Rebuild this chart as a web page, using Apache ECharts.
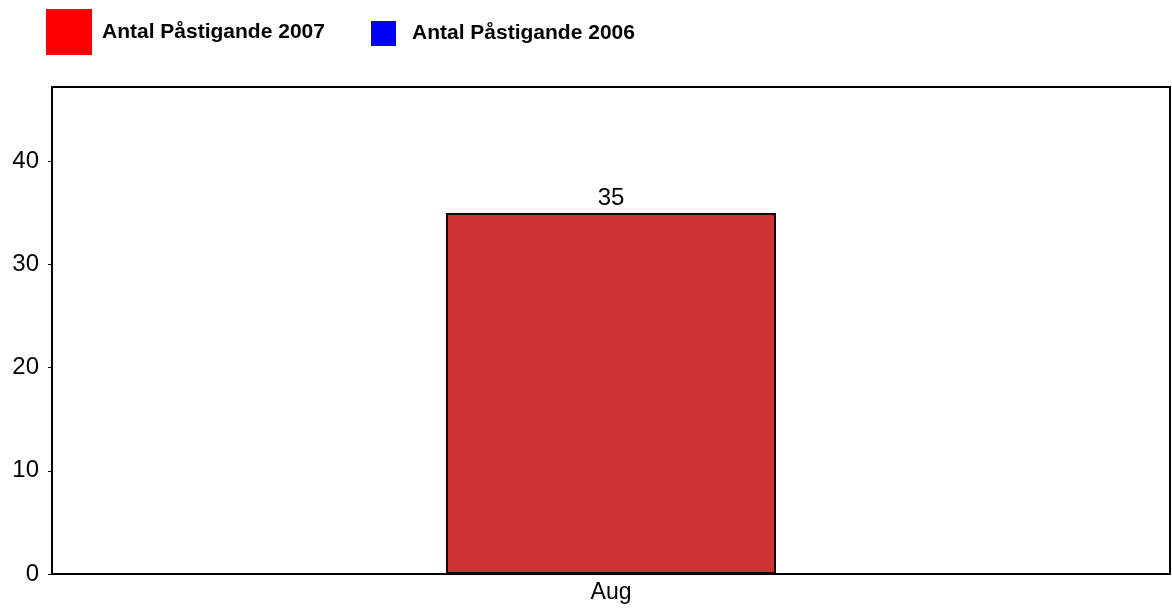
<!DOCTYPE html>
<html>
<head>
<meta charset="utf-8">
<script src="https://cdn.jsdelivr.net/npm/echarts@6/dist/echarts.min.js"></script>
<style>html,body{margin:0;padding:0;background:#fff;}#c{width:1172px;height:611px;}</style>
</head>
<body>
<div id="c"></div>
<script>
const categories = ['Aug'];
const seriesNames = ['Antal Påstigande 2007', 'Antal Påstigande 2006'];
const values2007 = [35];
const values2006 = ['-'];
const yTicks = [0, 10, 20, 30, 40];

const chart = echarts.init(document.getElementById('c'), null, {renderer: 'canvas'});
const font = 'Liberation Sans, Arial, sans-serif';
chart.setOption({
  animation: false,
  backgroundColor: '#ffffff',
  legend: [
    {
      data: [{name: seriesNames[0], itemStyle: {color: '#FF0000', borderWidth: 0}}],
      left: 46, top: 9, padding: 0,
      itemWidth: 46, itemHeight: 46, icon: 'rect',
      textStyle: {fontFamily: font, fontWeight: 'bold', fontSize: 21, color: '#000', padding: [0, 0, 0, 5]}
    },
    {
      data: [{name: seriesNames[1], itemStyle: {color: '#0000FF', borderWidth: 0}}],
      left: 371, top: 21, padding: 0,
      itemWidth: 25, itemHeight: 25, icon: 'rect',
      textStyle: {fontFamily: font, fontWeight: 'bold', fontSize: 21, color: '#000', padding: [0, 0, 0, 11]}
    }
  ],
  grid: {
    left: 52, right: 2, top: 87, bottom: 37,
    show: true, borderColor: '#000', borderWidth: 2, backgroundColor: '#fff'
  },
  xAxis: {
    type: 'category', data: categories,
    axisLine: {show: true, lineStyle: {color: '#000', width: 2}},
    axisTick: {show: false},
    axisLabel: {fontFamily: font, fontSize: 23, color: '#000', margin: 7}
  },
  yAxis: {
    type: 'value', min: 0, max: 47.2, interval: 10,
    axisLine: {show: true, lineStyle: {color: '#000', width: 2}},
    axisTick: {show: true, length: 4, lineStyle: {color: '#000'}},
    splitLine: {show: false},
    axisLabel: {
      fontFamily: font, fontSize: 24, color: '#000', margin: 13,
      showMaxLabel: false,
      formatter: v => yTicks.includes(v) ? String(v) : ''
    }
  },
  series: [
    {
      name: seriesNames[0], type: 'bar', data: values2007,
      barWidth: 330, barGap: '-100%',
      itemStyle: {color: '#CC3333', borderColor: '#1a0000', borderWidth: 2},
      label: {show: true, position: 'top', distance: 3, fontFamily: font, fontSize: 24, color: '#000'}
    },
    {
      name: seriesNames[1], type: 'bar', data: values2006,
      barWidth: 330,
      itemStyle: {color: '#0000FF'}
    }
  ]
});
</script>
</body>
</html>
